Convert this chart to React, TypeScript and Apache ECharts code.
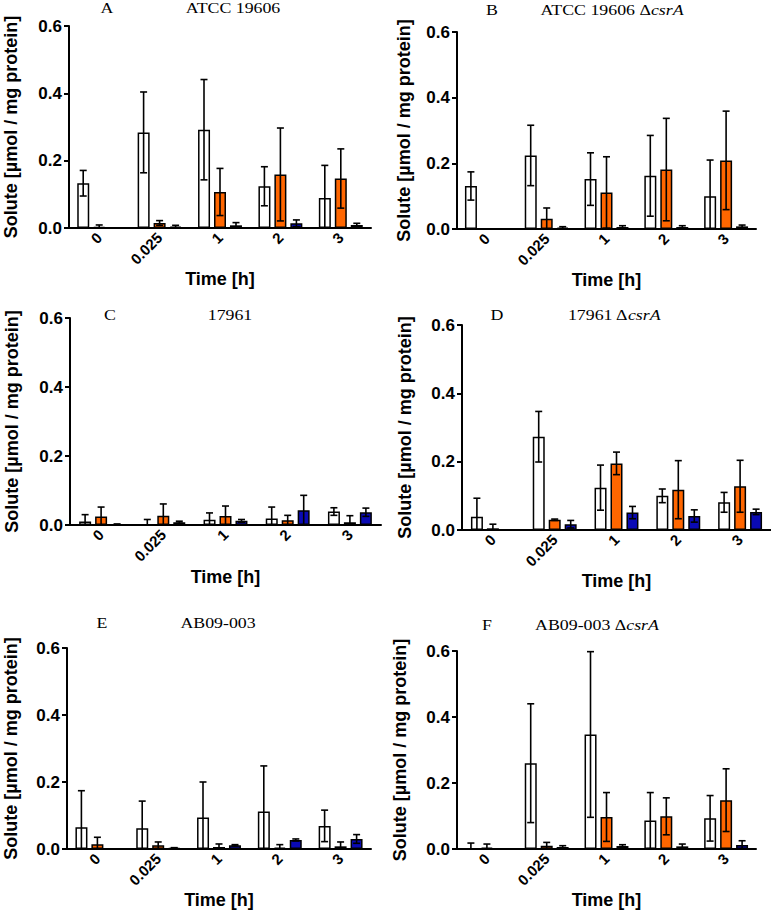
import React, { useEffect, useRef } from "react";
import * as echarts from "echarts";

const categories = ["0", "0.025", "1", "2", "3"];
const yTicks = [0, 0.2, 0.4, 0.6];

// Panel A: ATCC 19606
const aWhite = [0.133, 0.284, 0.292, 0.124, 0.089];
const aWhiteErr = [0.038, 0.12, 0.149, 0.058, 0.097];
const aOrange = [0.003, 0.015, 0.107, 0.159, 0.147];
const aOrangeErr = [0.006, 0.007, 0.07, 0.138, 0.088];
const aBlue = [0, 0.004, 0.008, 0.014, 0.009];
const aBlueErr = [0, 0.004, 0.008, 0.01, 0.005];

// Panel B: ATCC 19606 ΔcsrA
const bWhite = [0.131, 0.224, 0.152, 0.162, 0.1];
const bWhiteErr = [0.043, 0.092, 0.08, 0.123, 0.11];
const bOrange = [0.001, 0.031, 0.111, 0.181, 0.209];
const bOrangeErr = [0, 0.033, 0.109, 0.156, 0.15];
const bBlue = [0.001, 0.004, 0.006, 0.006, 0.008];
const bBlueErr = [0, 0.003, 0.004, 0.004, 0.004];

// Panel C: 17961
const cWhite = [0.01, 0, 0.015, 0.019, 0.039];
const cWhiteErr = [0.02, 0.016, 0.02, 0.033, 0.011];
const cOrange = [0.025, 0.027, 0.026, 0.014, 0.008];
const cOrangeErr = [0.027, 0.034, 0.029, 0.014, 0.019];
const cBlue = [0.002, 0.008, 0.012, 0.043, 0.037];
const cBlueErr = [0.001, 0.003, 0.004, 0.043, 0.012];

// Panel D: 17961 ΔcsrA
const dWhite = [0.039, 0.273, 0.124, 0.1, 0.081];
const dWhiteErr = [0.054, 0.074, 0.066, 0.02, 0.029];
const dOrange = [0.005, 0.03, 0.195, 0.118, 0.128];
const dOrangeErr = [0.012, 0.002, 0.033, 0.085, 0.076];
const dBlue = [0.002, 0.017, 0.051, 0.041, 0.053];
const dBlueErr = [0, 0.011, 0.018, 0.018, 0.008];

// Panel E: AB09-003
const eWhite = [0.065, 0.062, 0.094, 0.112, 0.069];
const eWhiteErr = [0.109, 0.081, 0.106, 0.136, 0.047];
const eOrange = [0.014, 0.011, 0.006, 0.004, 0.008];
const eOrangeErr = [0.021, 0.01, 0.009, 0.009, 0.013];
const eBlue = [0, 0.003, 0.011, 0.027, 0.03];
const eBlueErr = [0, 0.001, 0.002, 0.003, 0.013];

// Panel F: AB09-003 ΔcsrA
const fWhite = [0, 0.26, 0.347, 0.086, 0.093];
const fWhiteErr = [0.018, 0.18, 0.251, 0.085, 0.069];
const fOrange = [0.004, 0.01, 0.097, 0.099, 0.148];
const fOrangeErr = [0.011, 0.01, 0.074, 0.056, 0.095];
const fBlue = [0.001, 0.006, 0.009, 0.008, 0.012];
const fBlueErr = [0, 0.004, 0.004, 0.007, 0.013];

const panels = [
  { letter: "A", name: "ATCC 19606", mutant: false, white: aWhite, whiteErr: aWhiteErr, orange: aOrange, orangeErr: aOrangeErr, blue: aBlue, blueErr: aBlueErr },
  { letter: "B", name: "ATCC 19606 Δ", mutant: true, white: bWhite, whiteErr: bWhiteErr, orange: bOrange, orangeErr: bOrangeErr, blue: bBlue, blueErr: bBlueErr },
  { letter: "C", name: "17961", mutant: false, white: cWhite, whiteErr: cWhiteErr, orange: cOrange, orangeErr: cOrangeErr, blue: cBlue, blueErr: cBlueErr },
  { letter: "D", name: "17961 Δ", mutant: true, white: dWhite, whiteErr: dWhiteErr, orange: dOrange, orangeErr: dOrangeErr, blue: dBlue, blueErr: dBlueErr },
  { letter: "E", name: "AB09-003", mutant: false, white: eWhite, whiteErr: eWhiteErr, orange: eOrange, orangeErr: eOrangeErr, blue: eBlue, blueErr: eBlueErr },
  { letter: "F", name: "AB09-003 Δ", mutant: true, white: fWhite, whiteErr: fWhiteErr, orange: fOrange, orangeErr: fOrangeErr, blue: fBlue, blueErr: fBlueErr },
];

// layout (pixels)
const grids = [
  { left: 69, top: 26, width: 302, height: 202, xNameGap: 38, yNameGap: 49, letterX: 107, titleX: 233, titleY: 8 },
  { left: 457, top: 32, width: 299, height: 197, xNameGap: 38, yNameGap: 44, letterX: 492, titleX: 612, titleY: 10 },
  { left: 70, top: 318, width: 311, height: 207, xNameGap: 43, yNameGap: 49, letterX: 110, titleX: 230, titleY: 315 },
  { left: 462, top: 325, width: 309, height: 205, xNameGap: 40, yNameGap: 48, letterX: 497, titleX: 614, titleY: 315 },
  { left: 67, top: 648, width: 304, height: 201, xNameGap: 41, yNameGap: 47, letterX: 102, titleX: 218, titleY: 623 },
  { left: 457, top: 651, width: 299, height: 198, xNameGap: 39, yNameGap: 48, letterX: 487, titleX: 597, titleY: 625 },
];

const SANS = "Liberation Sans, Arial, sans-serif";
const SERIF = "Liberation Serif, Times New Roman, serif";
const ORANGE = "#FF6600";
const BLUE = "#0A0AB4";
const BAR_W = 12;
const OFFSETS = [-16, 0, 16];

function errorSeries(gi: number, vals: number[], errs: number[], offset: number) {
  return {
    type: "custom",
    xAxisIndex: gi,
    yAxisIndex: gi,
    silent: true,
    z: 5,
    encode: { x: 0, y: 1 },
    data: vals.map((v, i) => [i, v, errs[i]]),
    renderItem: (params: any, api: any) => {
      const idx = api.value(0);
      const v = api.value(1);
      const e = api.value(2);
      if (!e) return { type: "group", children: [] };
      const top = api.coord([idx, v + e]);
      const bot = api.coord([idx, Math.max(0, v - e)]);
      const x = top[0] + offset;
      const st = { stroke: "#000", lineWidth: 1.6 };
      return {
        type: "group",
        children: [
          { type: "line", shape: { x1: x, y1: top[1], x2: x, y2: bot[1] }, style: st },
          { type: "line", shape: { x1: x - 3.5, y1: top[1], x2: x + 3.5, y2: top[1] }, style: st },
          { type: "line", shape: { x1: x - 3.5, y1: bot[1], x2: x + 3.5, y2: bot[1] }, style: st },
        ],
      };
    },
  };
}

export default function App() {
  const ref = useRef<HTMLDivElement>(null);
  useEffect(() => {
    if (!ref.current) return;
    const chart = echarts.init(ref.current, null, { renderer: "svg" });
    const gridOpt: any[] = [];
    const xAxes: any[] = [];
    const yAxes: any[] = [];
    const series: any[] = [];
    const graphic: any[] = [];
    panels.forEach((p, gi) => {
      const g = grids[gi];
      gridOpt.push({ left: g.left, top: g.top, width: g.width, height: g.height, containLabel: false, outerBoundsMode: "none" });
      xAxes.push({
        type: "category",
        gridIndex: gi,
        data: categories,
        name: "Time [h]",
        nameLocation: "middle",
        nameGap: g.xNameGap,
        nameTextStyle: { fontFamily: SANS, fontWeight: "bold", fontSize: 18, color: "#000" },
        axisLine: { lineStyle: { color: "#000", width: 2 } },
        axisTick: { alignWithLabel: true, length: 5, lineStyle: { color: "#000", width: 2 } },
        axisLabel: { rotate: 45, margin: 7, fontFamily: SANS, fontWeight: "bold", fontSize: 15, color: "#000" },
      });
      yAxes.push({
        type: "value",
        gridIndex: gi,
        min: 0,
        max: 0.6,
        interval: 0.2,
        name: "Solute [µmol / mg protein]",
        nameLocation: "middle",
        nameRotate: 90,
        nameGap: g.yNameGap,
        nameTextStyle: { fontFamily: SANS, fontWeight: "bold", fontSize: 18, lineHeight: 18, color: "#000" },
        splitLine: { show: false },
        axisLine: { show: true, lineStyle: { color: "#000", width: 2 } },
        axisTick: { show: true, length: 5, lineStyle: { color: "#000", width: 2 } },
        axisLabel: {
          margin: 7,
          fontFamily: SANS,
          fontWeight: "bold",
          fontSize: 17,
          color: "#000",
          formatter: (v: number) => (yTicks.some((t) => Math.abs(t - v) < 1e-9) ? v.toFixed(1) : ""),
        },
      });
      const barBase = {
        type: "bar",
        xAxisIndex: gi,
        yAxisIndex: gi,
        barWidth: BAR_W,
        barGap: "33%",
      };
      series.push({ ...barBase, name: "white", data: p.white, itemStyle: { color: "#fff", borderColor: "#000", borderWidth: 1.5 } });
      series.push({ ...barBase, name: "orange", data: p.orange, itemStyle: { color: ORANGE, borderColor: "#000", borderWidth: 1.5 } });
      series.push({ ...barBase, name: "blue", data: p.blue, itemStyle: { color: BLUE, borderColor: "#000", borderWidth: 1.5 } });
      series.push(errorSeries(gi, p.white, p.whiteErr, OFFSETS[0]));
      series.push(errorSeries(gi, p.orange, p.orangeErr, OFFSETS[1]));
      series.push(errorSeries(gi, p.blue, p.blueErr, OFFSETS[2]));
      graphic.push({
        type: "text",
        x: g.letterX,
        y: g.titleY,
        scaleX: 1.15,
        style: { text: p.letter, fontFamily: SERIF, fontSize: 15.5, fill: "#000", align: "center", verticalAlign: "middle" },
      });
      graphic.push({
        type: "text",
        x: g.titleX,
        y: g.titleY,
        scaleX: 1.15,
        style: {
          text: p.mutant ? `{n|${p.name}}{i|csrA}` : `{n|${p.name}}`,
          rich: {
            n: { fontFamily: SERIF, fontSize: 15.5, fill: "#000", color: "#000" },
            i: { fontFamily: SERIF, fontSize: 15.5, fontStyle: "italic", fill: "#000", color: "#000" },
          },
          fontFamily: SERIF,
          fontSize: 15.5,
          fill: "#000",
          align: "center",
          verticalAlign: "middle",
        },
      });
    });
    chart.setOption({
      animation: false,
      backgroundColor: "#fff",
      grid: gridOpt,
      xAxis: xAxes,
      yAxis: yAxes,
      series,
      graphic,
    });
    return () => chart.dispose();
  }, []);
  return <div ref={ref} style={{ position: "absolute", left: 0, top: 0, width: 771, height: 911 }} />;
}
